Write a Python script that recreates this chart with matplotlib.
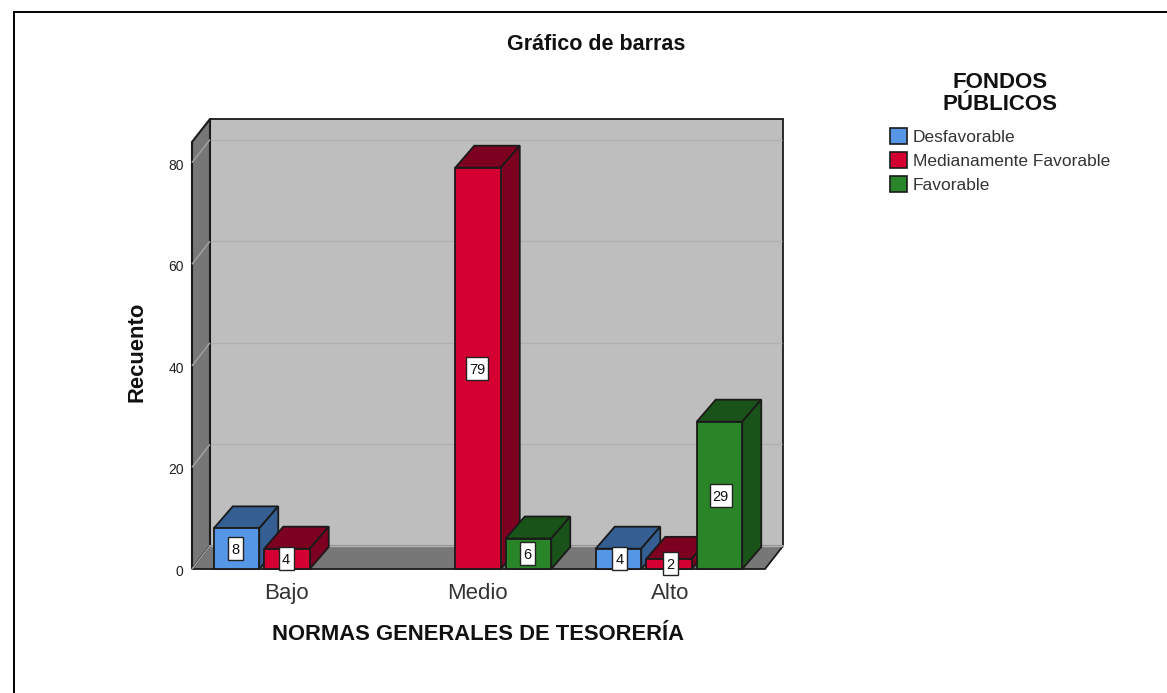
import numpy as np
import matplotlib
matplotlib.use('Agg')
import matplotlib.pyplot as plt
from matplotlib.patches import Polygon, Rectangle, Patch
from matplotlib.transforms import ScaledTranslation

plt.rcParams['font.family'] = ['Liberation Sans', 'DejaVu Sans']

# data
categories = ['Bajo', 'Medio', 'Alto']
series = ['Desfavorable', 'Medianamente Favorable', 'Favorable']
desfavorable = [8, 0, 4]
medianamente = [4, 79, 2]
favorable = [0, 6, 29]
yticks = [0, 20, 40, 60, 80]

front = ['#5596E6', '#D50032', '#2A8529']
dark = ['#355E93', '#7E0021', '#1A5319']

W, H = 1167, 693
fig = plt.figure(figsize=(W/100, H/100), dpi=100)
ax = fig.add_axes([192/W, 1-569/H, 573/W, 427/H])
ax.set_xlim(-0.5, 2.5)
ax.set_ylim(0, 84.06)
for s in ax.spines.values():
    s.set_visible(False)
ax.patch.set_visible(False)

# pixel sizes in data units
px = 3/573
py = 84.06/427
wall_dx = 18*px
wall_dy = 23*py
bar_dx = 19*px
bar_dy = 22*py
x0, x1 = ax.get_xlim()
y0, y1 = ax.get_ylim()
EDGE = '#1a1a1a'

def poly(pts, fc, z, ec=EDGE, lw=1.3):
    ax.add_patch(Polygon(pts, closed=True, fc=fc, ec=ec, lw=lw, zorder=z,
                         clip_on=False, joinstyle='miter'))

# walls and floor
poly([(x0+wall_dx, y0+wall_dy), (x1+wall_dx, y0+wall_dy), (x1+wall_dx, y1+wall_dy), (x0+wall_dx, y1+wall_dy)], '#BEBEBE', 1)
poly([(x0, y0), (x0+wall_dx, y0+wall_dy), (x0+wall_dx, y1+wall_dy), (x0, y1)], '#777777', 2, lw=1.5)
poly([(x0, y0), (x1, y0), (x1+wall_dx, y0+wall_dy), (x0+wall_dx, y0+wall_dy)], '#777777', 2)
ax.plot([x0+wall_dx, x1+wall_dx], [y0+wall_dy, y0+wall_dy], color='#8f8f8f', lw=1.5, zorder=3, clip_on=False)

# gridlines on the walls
for t in yticks:
    ax.plot([x0, x0+wall_dx], [t, t+wall_dy], color='#A0A0A0', lw=1.1, zorder=3,
            clip_on=False, solid_capstyle='butt')
    ax.plot([x0+wall_dx+px, x1+wall_dx-px], [t+wall_dy, t+wall_dy], color='#B0B0B0', lw=1.0,
            zorder=3, clip_on=False, solid_capstyle='butt')

# bars, left to right so the later ones cover the earlier ones
pitch = 50.5*px
width = 45.5*px
values = [desfavorable, medianamente, favorable]
nudge = [-1.5*px, -1.5*px, 0.5*px]
labels = []
z = 5
for c in range(len(categories)):
    for i in range(len(series)):
        v = values[i][c]
        if v == 0:
            continue
        l = c + (i-1)*pitch - width/2 - 0.5*px
        r = l + width
        poly([(l, v), (r, v), (r+bar_dx, v+bar_dy), (l+bar_dx, v+bar_dy)], dark[i], z)
        poly([(r, 0), (r+bar_dx, bar_dy), (r+bar_dx, v+bar_dy), (r, v)], dark[i], z)
        poly([(l, 0), (r, 0), (r, v), (l, v)], front[i], z)
        z += 1
        labels.append((c + (i-1)*pitch + nudge[c], v))

# value boxes
for xc, v in labels:
    txt = str(v)
    bw = (7*len(txt)+8)*px
    bh = 23*py
    ax.add_patch(Rectangle((xc-bw/2, v/2-bh/2), bw, bh, fc='white', ec='#222222',
                           lw=1.0, zorder=40, clip_on=False))
    ax.text(xc, v/2, txt, ha='center', va='center_baseline', fontsize=10.5, color='#111111', zorder=41)

ax.set_xticks(np.arange(len(categories)) + np.array(nudge))
ax.set_xticklabels(categories, fontsize=16, color='#333333')
ax.set_yticks(yticks)
ax.set_yticklabels([str(t) for t in yticks], fontsize=10, color='#222222')
ax.tick_params(axis='x', length=0, pad=10)
ax.tick_params(axis='y', length=0, pad=6)
down = ScaledTranslation(0, -1.5/100, fig.dpi_scale_trans)
for lab in ax.get_yticklabels():
    lab.set_transform(lab.get_transform() + down)

fig.text(478/W, 1-634/H, 'NORMAS GENERALES DE TESORERÍA', ha='center', va='center',
         fontsize=15.8, fontweight='bold', color='#111111')
fig.text(137/W, 1-352/H, 'Recuento', ha='center', va='center', rotation=90,
         fontsize=15.8, fontweight='bold', color='#111111')
fig.text(596.5/W, 1-45/H, 'Gráfico de barras', ha='center', va='center',
         fontsize=15.5, fontweight='bold', color='#111111')

# legend title sits apart from the rows
fig.text(1000/W, 1-88/H, 'FONDOS', ha='center', va='baseline', fontsize=16, fontweight='bold', color='#111111')
fig.text(1000/W, 1-110/H, 'PÚBLICOS', ha='center', va='baseline', fontsize=16, fontweight='bold', color='#111111')

handles = [Patch(fc=front[i], ec=EDGE, lw=1.2, label=series[i]) for i in range(len(series))]
leg = fig.legend(handles=handles, loc='upper left', bbox_to_anchor=(890/W, 1-128/H),
                 frameon=False, fontsize=12.5, borderpad=0, borderaxespad=0,
                 handlelength=1.0, handleheight=1.0, handletextpad=0.3,
                 labelspacing=0.42, labelcolor='#333333')

# outer frame
fig.add_artist(plt.Line2D([14/W, 14/W], [0, 1-12/H], color='black', lw=1.4))
fig.add_artist(plt.Line2D([14/W, 1], [1-12/H, 1-12/H], color='black', lw=1.4))

fig.savefig('out.png', dpi=100)
